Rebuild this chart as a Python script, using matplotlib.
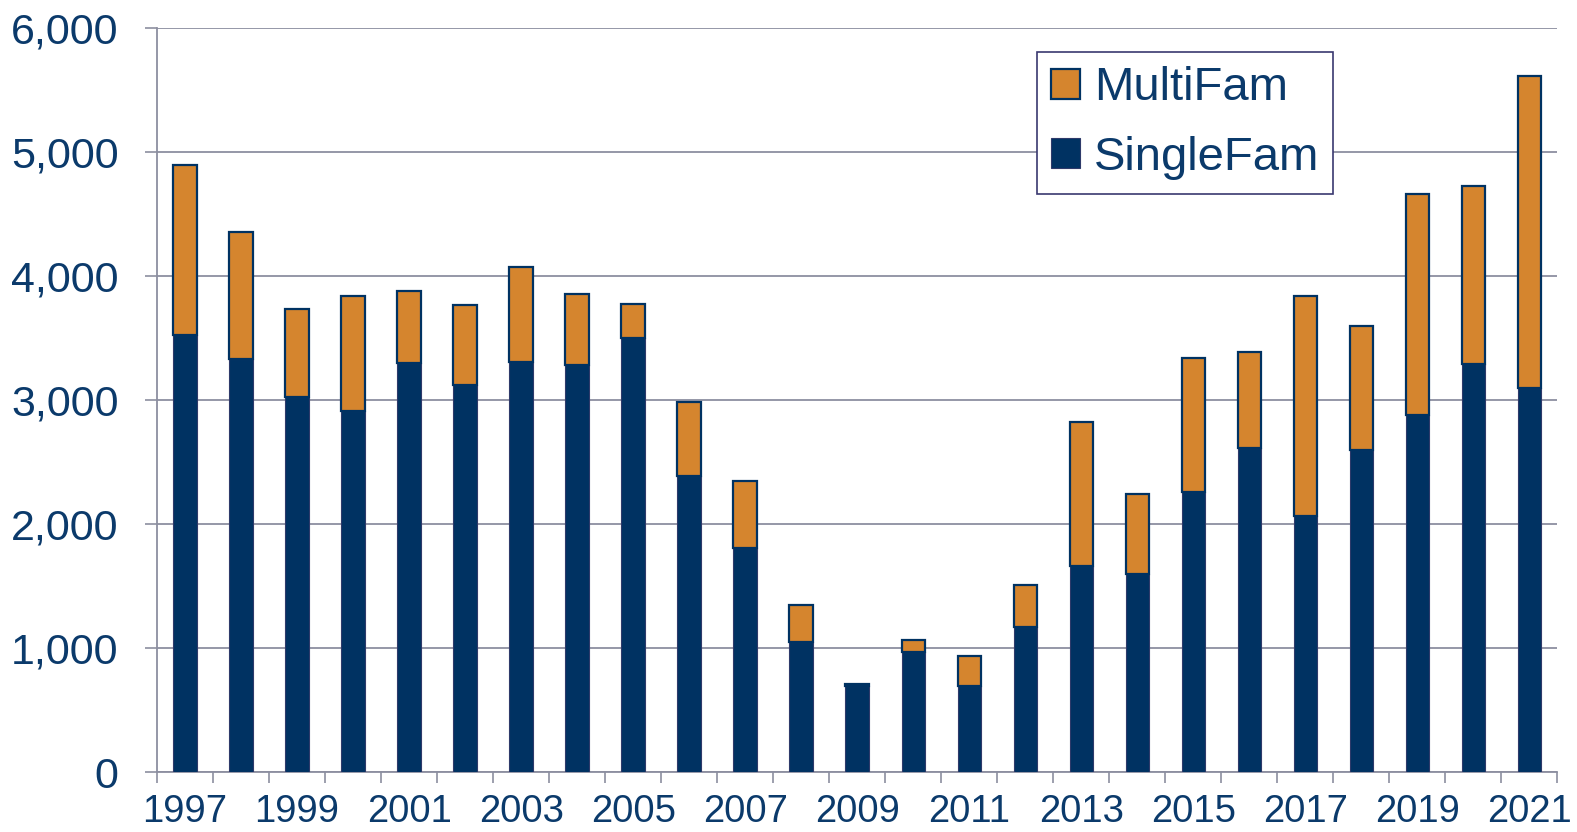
import numpy as np
import matplotlib
matplotlib.use("Agg")
import matplotlib.pyplot as plt
from matplotlib.ticker import FuncFormatter

# Dados
anos = list(range(1997, 2022))
single_fam = [3520, 3331, 3027, 2914, 3296, 3120, 3306, 3282, 3500, 2390,
              1805, 1051, 694, 970, 694, 1173, 1660, 1595, 2260, 2608,
              2066, 2592, 2879, 3290, 3096]
total = [4895, 4357, 3734, 3836, 3874, 3768, 4067, 3856, 3775, 2981,
         2349, 1343, 710, 1067, 937, 1505, 2819, 2243, 3338, 3386,
         3841, 3597, 4661, 4726, 5608]
multi_fam = [t - s for t, s in zip(total, single_fam)]

# Cores
azul = '#003262'
laranja = '#D5852E'
cinza = '#8C8FA0'
texto = '#0B3A6B'

plt.rcParams['font.family'] = ['Liberation Sans', 'DejaVu Sans']

fig = plt.figure(figsize=(15.77, 8.32), dpi=100)
ax = fig.add_axes([0.0996, 0.0721, 0.888, 0.8946])

x = np.arange(len(anos))
largura = 0.42

ax.bar(x, single_fam, largura, color=azul, edgecolor='#2E3A6A', linewidth=0.8,
       label='SingleFam', zorder=3)
ax.bar(x, multi_fam, largura, bottom=single_fam, color=laranja, edgecolor=azul,
       linewidth=1.6, label='MultiFam', zorder=3)

ax.set_xlim(-0.5, len(anos) - 0.5)
ax.set_ylim(0, 6000)

# Eixo Y
ax.set_yticks(np.arange(0, 6001, 1000))
ax.yaxis.set_major_formatter(FuncFormatter(lambda v, p: f'{int(v):,}'))
ax.tick_params(axis='y', length=8.6, width=1.2, color=cinza, pad=19,
               labelsize=31, labelcolor=texto)
ax.grid(axis='y', color=cinza, linewidth=1.3, zorder=1)

# Eixo X: marcas nas fronteiras, rótulos a cada dois anos
ax.set_xticks(np.arange(-0.5, len(anos), 1.0))
ax.set_xticklabels([])
ax.tick_params(axis='x', which='major', length=8, width=1.2, color=cinza)
ax.set_xticks(x[::2], minor=True)
ax.set_xticklabels([str(a) for a in anos[::2]], minor=True)
ax.tick_params(axis='x', which='minor', length=0, pad=16, labelsize=27.5,
               labelcolor=texto)

for lado in ['top', 'right']:
    ax.spines[lado].set_visible(False)
for lado in ['left', 'bottom']:
    ax.spines[lado].set_color(cinza)
    ax.spines[lado].set_linewidth(1.3)

# Legenda
handles, labels = ax.get_legend_handles_labels()
leg = ax.legend(handles[::-1], labels[::-1], loc='upper left',
                bbox_to_anchor=(0.6576, 0.9375), bbox_transform=fig.transFigure,
                fontsize=34, frameon=True, fancybox=False, framealpha=1,
                edgecolor='#3A3870', handlelength=0.6, handleheight=0.6,
                handletextpad=0.3, labelspacing=0.55, borderpad=0.3,
                borderaxespad=0)
leg.get_frame().set_linewidth(1.2)
for t in leg.get_texts():
    t.set_color(texto)

fig.savefig('out.png', dpi=100)
